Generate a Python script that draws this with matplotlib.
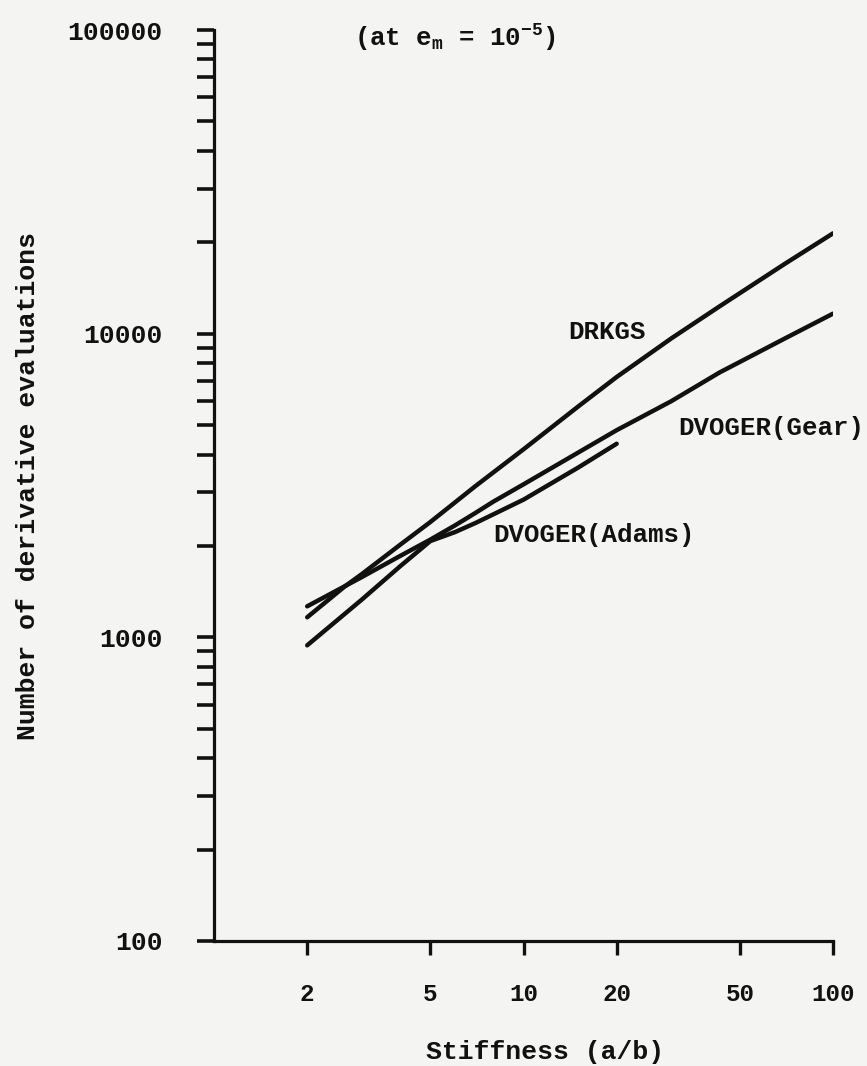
import matplotlib
matplotlib.use("Agg")
import matplotlib.pyplot as plt
from matplotlib.ticker import LogLocator, NullFormatter, FixedLocator, FixedFormatter

# ---- data ----
drkgs_x = [2, 2.65, 3, 4, 5, 7, 10, 15, 20, 30, 43, 70, 100]
drkgs_y = [1164, 1473, 1614, 2020, 2397, 3150, 4160, 5750, 7200, 9640, 12300, 17000, 21400]

gear_x = [2, 3, 4, 5, 6, 7, 8, 10, 20, 30, 43, 50, 70, 100]
gear_y = [1265, 1578, 1855, 2098, 2335, 2570, 2800, 3190, 4810, 5990, 7450, 8070, 9650, 11640]

adams_x = [2, 3, 4, 5, 6, 7, 10, 15, 20]
adams_y = [941, 1330, 1716, 2075, 2220, 2380, 2840, 3620, 4340]

x_ticks = [2, 5, 10, 20, 50, 100]
x_ticklabels = ["2", "5", "10", "20", "50", "100"]
y_ticks = [100, 1000, 10000, 100000]
y_ticklabels = ["100", "1000", "10000", "100000"]

labels = {"DRKGS": "DRKGS", "Gear": "DVOGER(Gear)", "Adams": "DVOGER(Adams)"}

# ---- style ----
plt.rcParams["font.family"] = ["Liberation Mono", "DejaVu Sans Mono"]
plt.rcParams["font.weight"] = "bold"
plt.rcParams["mathtext.fontset"] = "custom"
plt.rcParams["mathtext.rm"] = "Liberation Mono:bold"
plt.rcParams["mathtext.it"] = "Liberation Mono:bold"
plt.rcParams["mathtext.default"] = "rm"

W, H = 867, 1066
bg = "#f4f4f2"
ink = "#111111"
fig = plt.figure(figsize=(W / 100, H / 100), dpi=100, facecolor=bg)

L, R, T, B = 214, 833, 30, 941
ax = fig.add_axes([L / W, 1 - B / H, (R - L) / W, (B - T) / H])
ax.set_facecolor(bg)
ax.set_xscale("log")
ax.set_yscale("log")
ax.set_xlim(1, 100)
ax.set_ylim(100, 100000)

lw = 3.2
for xs, ys in [(drkgs_x, drkgs_y), (gear_x, gear_y), (adams_x, adams_y)]:
    ax.plot(xs, ys, color=ink, lw=lw, solid_capstyle="round", solid_joinstyle="round")

for s in ["top", "right"]:
    ax.spines[s].set_visible(False)
for s in ["left", "bottom"]:
    ax.spines[s].set_linewidth(2.3)
    ax.spines[s].set_color(ink)

ax.xaxis.set_major_locator(FixedLocator(x_ticks))
ax.xaxis.set_major_formatter(FixedFormatter(x_ticklabels))
ax.xaxis.set_minor_locator(FixedLocator([]))
ax.yaxis.set_major_locator(FixedLocator(y_ticks))
ax.yaxis.set_major_formatter(FixedFormatter(y_ticklabels))
ax.yaxis.set_minor_locator(LogLocator(base=10, subs=range(2, 10)))
ax.yaxis.set_minor_formatter(NullFormatter())

ax.tick_params(axis="x", which="major", direction="out", length=10, width=2.4,
               color=ink, labelsize=17.5, pad=20, labelcolor=ink)
ax.tick_params(axis="y", which="both", direction="out", length=12, width=2.6,
               color=ink, labelsize=19, pad=25, labelcolor=ink)
ax.tick_params(axis="y", which="minor", length=12)

ax.set_xlabel("Stiffness (a/b)", fontsize=19, color=ink, fontweight="bold")
ax.xaxis.set_label_coords((545 - L) / (R - L), -(1052 - B) / (B - T))
ax.set_ylabel("Number of derivative evaluations", fontsize=19, color=ink, fontweight="bold")
ax.yaxis.set_label_coords((28 - L) / (R - L), 0.5)
ax.xaxis.label.set_va("center")
ax.yaxis.label.set_va("center")

# curve labels
ax.annotate(labels["DRKGS"], xy=(568 / W, 1 - 332 / H), xycoords="figure fraction",
            ha="left", va="center", fontsize=18.5, color=ink, fontweight="bold")
ax.annotate(labels["Gear"], xy=(678 / W, 1 - 428 / H), xycoords="figure fraction",
            ha="left", va="center", fontsize=18.5, color=ink, fontweight="bold")
ax.annotate(labels["Adams"], xy=(493 / W, 1 - 535 / H), xycoords="figure fraction",
            ha="left", va="center", fontsize=18.5, color=ink, fontweight="bold")

fig.text(455 / W, 1 - 38 / H, r"(at e$_{\mathrm{m}}$ = 10$^{-5}$)", ha="center", va="center",
         fontsize=18.5, color=ink, fontweight="bold")

fig.savefig("out.png", dpi=100, facecolor=bg)
